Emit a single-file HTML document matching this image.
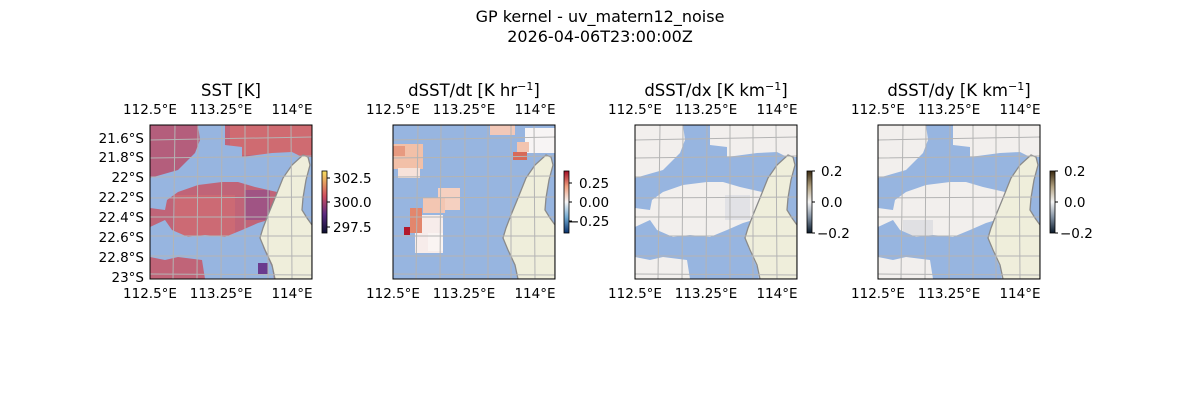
<!DOCTYPE html>
<html><head><meta charset="utf-8"><style>
html,body{margin:0;padding:0;background:#fff;}
svg{display:block;font-family:"DejaVu Sans","Liberation Sans",sans-serif;}
</style></head><body>
<svg width="1200" height="400" viewBox="0 0 1200 400" xmlns="http://www.w3.org/2000/svg">
<defs>
<linearGradient id="cb1" x1="0" y1="1" x2="0" y2="0"><stop offset="0" stop-color="#0d1030"/><stop offset="0.3" stop-color="#5a2a80"/><stop offset="0.6" stop-color="#d05060"/><stop offset="1" stop-color="#f8e060"/></linearGradient>
<linearGradient id="cb2" x1="0" y1="1" x2="0" y2="0"><stop offset="0" stop-color="#08306b"/><stop offset="0.25" stop-color="#6fa8d0"/><stop offset="0.5" stop-color="#f7f7f7"/><stop offset="0.75" stop-color="#f0a080"/><stop offset="1" stop-color="#a50f26"/></linearGradient>
<linearGradient id="cb3" x1="0" y1="1" x2="0" y2="0"><stop offset="0" stop-color="#0a1a2a"/><stop offset="0.25" stop-color="#7f8ea0"/><stop offset="0.5" stop-color="#f5f5f5"/><stop offset="0.75" stop-color="#b0a080"/><stop offset="1" stop-color="#3a2a10"/></linearGradient>
<clipPath id="pc"><rect x="150" y="125" width="162" height="154"/></clipPath>
<g id="water" fill="#97b5e0">
<polygon points="198,125 225,125 225,145 242,147 242,157 272,153 292,152 302,157 288,173 277,192 255,187 238,182 222,182 198,185 178,192 167,200 165,210 150,208 150,178 178,170 195,153 200,140"/>
<polygon points="150,227 165,220 172,230 188,237 205,235 225,237 242,230 258,223 268,220 262,233 263,247 272,267 274,279 205,279 202,260 178,257 165,260 150,257"/>
<polygon points="301,157 312,157 312,227 301,227"/>
</g>
<g id="land">
<polygon fill="#efeedb" stroke="#8a8a8a" stroke-width="1.3" points="303,155 308,157 310,165 306,180 303,198 302,210 307,218 312,225 312,279 275,279 272,265 265,250 260,238 263,228 268,215 275,198 283,178 292,165"/>
</g>
<g id="grid" stroke="#b4b4b4" stroke-width="1" fill="none">
<path d="M175,125 L173,279 M198,125 L197,279 M222,125 L221,279 M245,125 L245,279 M268,125 L268,279 M291,125 L292,279"/>
<path d="M150,140 L312,137 M150,158 L312,156 M150,177 L312,176 M150,198 L312,197 M150,217 L312,217 M150,236 L312,236 M150,256 L312,256 M150,274 L312,275"/>
</g>
</defs>

<text x="600" y="22" font-size="16" text-anchor="middle">GP kernel - uv_matern12_noise</text>
<text x="600" y="42" font-size="16" text-anchor="middle">2026-04-06T23:00:00Z</text>

<!-- Panel 1 -->
<g clip-path="url(#pc)">
<rect x="150" y="125" width="162" height="154" fill="#c06478"/>
<rect x="150" y="125" width="50" height="60" fill="#b45e7c"/>
<rect x="230" y="125" width="82" height="30" fill="#cf6b71"/>
<rect x="175" y="195" width="60" height="45" fill="#cc6a74"/>
<rect x="245" y="190" width="25" height="30" fill="#a05484"/>
<use href="#water"/>
<rect x="258" y="263" width="10" height="11" fill="#6a3a8e"/>
<use href="#land"/>
<use href="#grid"/>
</g>
<rect x="150" y="125" width="162" height="154" fill="none" stroke="#000" stroke-width="1"/>

<!-- Panel 2 -->
<g transform="translate(243,0)">
<g clip-path="url(#pc)">
<rect x="150" y="125" width="162" height="154" fill="#97b5e0"/>
<rect x="150" y="144" width="30" height="25" fill="#f2c0a8"/>
<rect x="155" y="168" width="22" height="10" fill="#f6e2da"/>
<rect x="150" y="146" width="12" height="10" fill="#e79a80"/>
<rect x="195" y="188" width="22" height="22" fill="#f5d0c0"/>
<rect x="180" y="198" width="22" height="15" fill="#f3c6b2"/>
<rect x="172" y="215" width="28" height="38" fill="#f7ecea"/>
<rect x="167" y="208" width="12" height="25" fill="#e3866c"/>
<rect x="161" y="227" width="6" height="8" fill="#b2182b"/>
<rect x="185" y="233" width="15" height="18" fill="#faf4f2"/>
<rect x="247" y="125" width="25" height="10" fill="#f2c8b8"/>
<rect x="282" y="128" width="30" height="25" fill="#f7f4f4"/>
<rect x="270" y="152" width="14" height="8" fill="#d86a58"/>
<rect x="274" y="142" width="12" height="10" fill="#f2c4b0"/>
<use href="#land"/>
<use href="#grid"/>
</g>
<rect x="150" y="125" width="162" height="154" fill="none" stroke="#000" stroke-width="1"/>
</g>

<!-- Panel 3 -->
<g transform="translate(485,0)">
<g clip-path="url(#pc)">
<rect x="150" y="125" width="162" height="154" fill="#f2efed"/>
<rect x="240" y="195" width="25" height="25" fill="#e2e2e6"/>
<use href="#water"/>
<use href="#land"/>
<use href="#grid"/>
</g>
<rect x="150" y="125" width="162" height="154" fill="none" stroke="#000" stroke-width="1"/>
</g>

<!-- Panel 4 -->
<g transform="translate(728,0)">
<g clip-path="url(#pc)">
<rect x="150" y="125" width="162" height="154" fill="#f2efed"/>
<rect x="175" y="220" width="30" height="35" fill="#e0e0e3"/>
<use href="#water"/>
<use href="#land"/>
<use href="#grid"/>
</g>
<rect x="150" y="125" width="162" height="154" fill="none" stroke="#000" stroke-width="1"/>
</g>

<!-- Tick labels per panel -->
<g font-size="13.5" fill="#000">
<g id="ticks1">
<text x="150" y="114" text-anchor="middle">112.5°E</text>
<text x="221" y="114" text-anchor="middle">113.25°E</text>
<text x="292" y="114" text-anchor="middle">114°E</text>
<text x="150" y="298" text-anchor="middle">112.5°E</text>
<text x="221" y="298" text-anchor="middle">113.25°E</text>
<text x="292" y="298" text-anchor="middle">114°E</text>
</g>
<use href="#ticks1" transform="translate(243,0)"/>
<use href="#ticks1" transform="translate(485,0)"/>
<use href="#ticks1" transform="translate(728,0)"/>
<g text-anchor="end">
<text x="144" y="143">21.6°S</text>
<text x="144" y="162">21.8°S</text>
<text x="144" y="182">22°S</text>
<text x="144" y="202">22.2°S</text>
<text x="144" y="222">22.4°S</text>
<text x="144" y="242">22.6°S</text>
<text x="144" y="262">22.8°S</text>
<text x="144" y="282">23°S</text>
</g>
</g>
<g font-size="16.5" text-anchor="middle">
<text x="231" y="96">SST [K]</text>
<text x="474" y="96">dSST/dt [K hr<tspan baseline-shift="super" font-size="11">−1</tspan>]</text>
<text x="716" y="96">dSST/dx [K km<tspan baseline-shift="super" font-size="11">−1</tspan>]</text>
<text x="959" y="96">dSST/dy [K km<tspan baseline-shift="super" font-size="11">−1</tspan>]</text>
</g>

<!-- Colorbars -->
<g font-size="13.5">
<rect x="322" y="171" width="5" height="62" fill="url(#cb1)" stroke="#000" stroke-width="0.8"/>
<path d="M327,178h3M327,202h3M327,227h3" stroke="#000"/>
<text x="333" y="183">302.5</text><text x="333" y="207">300.0</text><text x="333" y="232">297.5</text>

<rect x="564" y="171" width="5" height="62" fill="url(#cb2)" stroke="#000" stroke-width="0.8"/>
<path d="M569,183h3M569,202h3M569,221h3" stroke="#000"/>
<text x="579" y="188">0.25</text><text x="579" y="207">0.00</text><text x="568" y="226">−0.25</text>

<rect x="807" y="171" width="5" height="62" fill="url(#cb3)" stroke="#000" stroke-width="0.8"/>
<path d="M812,171h3M812,202h3M812,233h3" stroke="#000"/>
<text x="821" y="176">0.2</text><text x="821" y="207">0.0</text><text x="817" y="238">−0.2</text>

<rect x="1050" y="171" width="5" height="62" fill="url(#cb3)" stroke="#000" stroke-width="0.8"/>
<path d="M1055,171h3M1055,202h3M1055,233h3" stroke="#000"/>
<text x="1064" y="176">0.2</text><text x="1064" y="207">0.0</text><text x="1060" y="238">−0.2</text>
</g>
</svg>
</body></html>
